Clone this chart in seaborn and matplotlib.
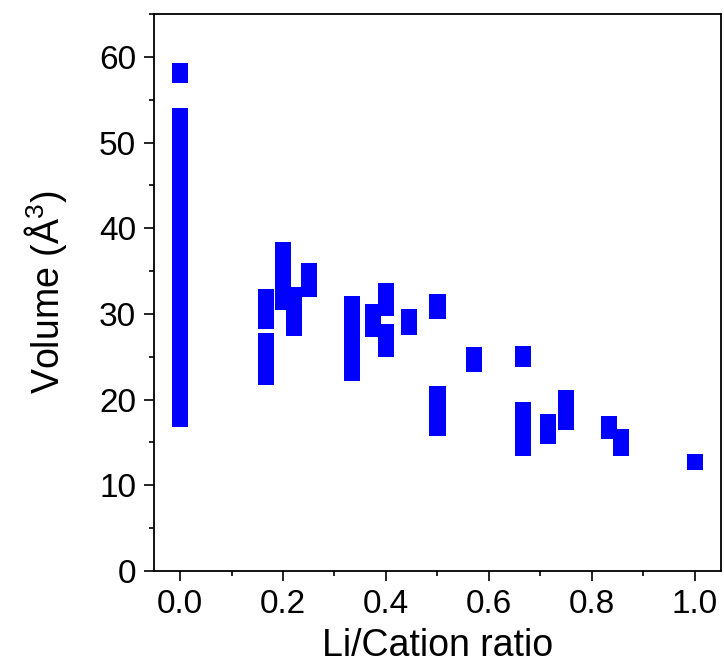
import numpy as np
import pandas as pd
import matplotlib
matplotlib.use("Agg")
import matplotlib.pyplot as plt
from matplotlib.ticker import MultipleLocator, AutoMinorLocator
import seaborn as sns

# ---- data ----
ratio_groups = [0.0, 0.1667, 0.2, 0.2222, 0.25, 0.3333, 0.375, 0.4, 0.4444,
                0.5, 0.5714, 0.6667, 0.7143, 0.75, 0.8333, 0.8571, 1.0]
vol_0000 = [58.3, 57.9, 53.1, 52.0, 50.7, 49.5, 48.2, 46.9, 45.8, 44.4, 43.1,
            41.9, 40.6, 39.4, 38.1, 36.9, 35.5, 34.3, 33.0, 31.8, 30.5, 29.3,
            28.0, 26.7, 25.5, 24.2, 23.0, 21.7, 20.5, 19.2, 17.8]
vol_0167 = [32.0, 30.6, 29.2, 26.8, 25.4, 24.0, 22.6]
vol_0200 = [37.4, 36.2, 35.0, 33.8, 32.6, 31.4]
vol_0222 = [32.2, 30.9, 29.6, 28.4]
vol_0250 = [35.0, 33.9, 32.9]
vol_0333 = [31.2, 30.0, 28.8, 27.5, 26.2, 25.0, 23.9, 23.1]
vol_0375 = [30.2, 29.2, 28.3]
vol_0400 = [32.7, 31.6, 30.7, 27.9, 26.8, 25.9]
vol_0444 = [29.6, 28.5]
vol_0500 = [31.4, 30.4, 20.7, 19.4, 18.0, 16.7]
vol_0571 = [25.2, 24.2]
vol_0667 = [25.3, 24.8, 18.8, 17.3, 15.9, 14.4]
vol_0714 = [17.4, 15.8]
vol_0750 = [20.2, 18.8, 17.4]
vol_0833 = [17.2, 16.3]
vol_0857 = [15.6, 14.4]
vol_1000 = [12.7]
volume_groups = [vol_0000, vol_0167, vol_0200, vol_0222, vol_0250, vol_0333,
                 vol_0375, vol_0400, vol_0444, vol_0500, vol_0571, vol_0667,
                 vol_0714, vol_0750, vol_0833, vol_0857, vol_1000]

xs, ys = [], []
for r, vals in zip(ratio_groups, volume_groups):
    for v in vals:
        xs.append(r)
        ys.append(v)
df = pd.DataFrame({"ratio": xs, "volume": ys})

# ---- style ----
sns.set_style("white")
plt.rcParams["font.family"] = ["Liberation Sans", "DejaVu Sans"]
plt.rcParams["mathtext.default"] = "regular"
plt.rcParams["text.color"] = "black"
plt.rcParams["axes.labelcolor"] = "black"
plt.rcParams["xtick.color"] = "black"
plt.rcParams["ytick.color"] = "black"

fig = plt.figure(figsize=(7.24, 6.68), dpi=100)
ax = fig.add_axes([0.2131, 0.1452, 0.9954 - 0.2131, 0.979 - 0.1452])

sns.scatterplot(data=df, x="ratio", y="volume", marker="s", s=134,
                color="#0000FF", edgecolor="none", linewidth=0,
                ax=ax, legend=False, zorder=3)

ax.set_xlim(-0.05, 1.05)
ax.set_ylim(0, 65)
ax.xaxis.set_major_locator(MultipleLocator(0.2))
ax.xaxis.set_minor_locator(AutoMinorLocator(2))
ax.yaxis.set_major_locator(MultipleLocator(10))
ax.yaxis.set_minor_locator(AutoMinorLocator(2))
ax.set_xticks([0.0, 0.2, 0.4, 0.6, 0.8, 1.0])
ax.set_xticklabels(["0.0", "0.2", "0.4", "0.6", "0.8", "1.0"])

for sp in ax.spines.values():
    sp.set_visible(True)
    sp.set_color("black")
    sp.set_linewidth(1.3)

ax.tick_params(axis="both", which="major", direction="out", length=7,
               width=1.2, color="black", labelcolor="black", labelsize=24,
               pad=6, bottom=True, left=True, top=False, right=False)
ax.tick_params(axis="both", which="minor", direction="out", length=3.8,
               width=1.2, color="black",
               bottom=True, left=True, top=False, right=False)

ax.set_xlabel("Li/Cation ratio", fontsize=27, labelpad=6, color="black")
ax.set_ylabel("Volume (Å$^{3}$)", fontsize=27, labelpad=22, color="black")
ax.grid(False)

fig.savefig("out.png", dpi=100)
